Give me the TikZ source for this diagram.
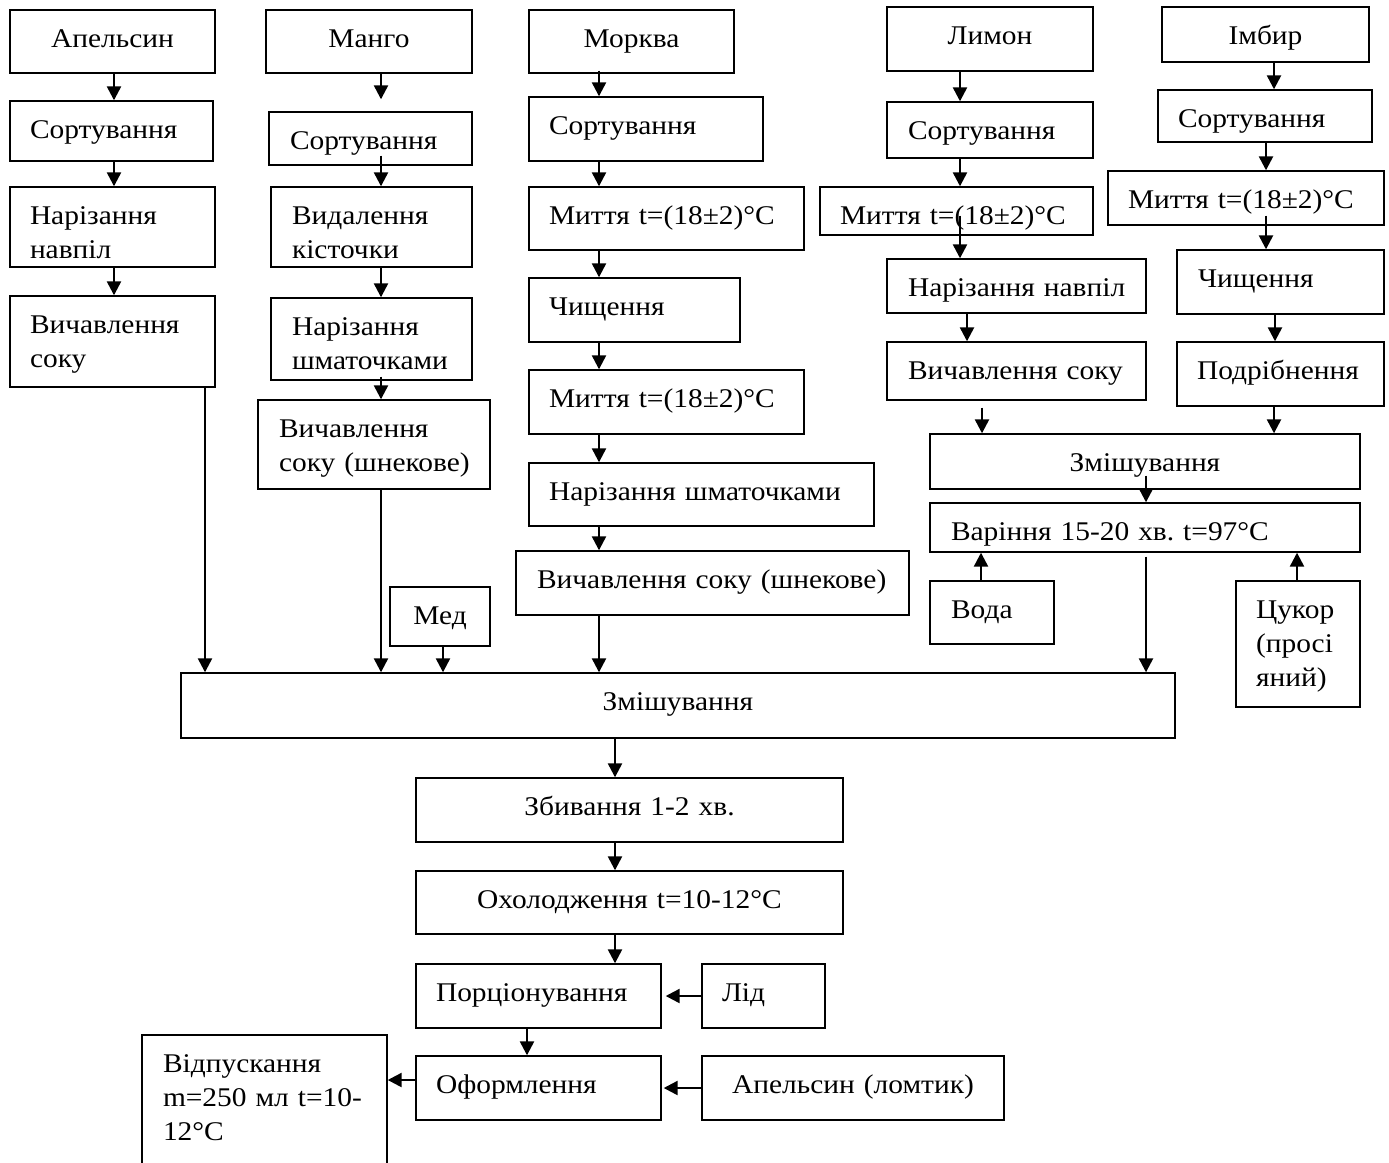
\documentclass[tikz,border=0pt]{standalone}
\usepackage{fontspec}
\setmainfont[FakeStretch=1.09]{Liberation Serif}
\usetikzlibrary{arrows.meta}
\tikzset{
  box/.style={draw, line width=1.4pt, rectangle, inner ysep=0pt, font=\fontsize{27}{34}\selectfont},
  arr/.style={line width=2.4pt, -{Triangle[length=14pt,width=14pt]}},
}
% name, x1, y1, x2, y2, pad, align, number of lines, text
\newcommand\mybox[9]{%
  \pgfmathsetmacro\bw{#4-#2}%
  \pgfmathsetmacro\bh{#5-#3}%
  \pgfmathsetmacro\tw{#4-#2-2*#6}%
  \pgfmathsetmacro\dd{#5-#3-39-(#8-1)*34}%
  \node[box, minimum width=\bw pt, minimum height=\bh pt, text width=\tw pt, inner xsep=#6 pt, align=#7] (#1) at ({(#2+#4)/2},{(#3+#5)/2}) {\rule{0pt}{36pt}#9\rule[-\dd pt]{0pt}{\dd pt}};}
\begin{document}
\begin{tikzpicture}[x=1pt,y=-1pt]
\useasboundingbox (0,0) rectangle (1389,1162);
\fill[white] (0,0) rectangle (1389,1162);
\clip (0,0) rectangle (1389,1162);
% column 1
\mybox{a1}{10}{10}{215}{73}{5}{center}{1}{Апельсин}
\mybox{a2}{10}{101}{213}{161}{20}{left}{1}{Сортування}
\mybox{a3}{10}{187}{215}{267}{20}{left}{2}{Нарізання\\навпіл}
\mybox{a4}{10}{296}{215}{387}{20}{left}{2}{Вичавлення\\соку}
% column 2
\mybox{m1}{266}{10}{472}{73}{5}{center}{1}{Манго}
\mybox{m2}{269}{112}{472}{165}{21}{left}{1}{Сортування}
\mybox{m3}{271}{187}{472}{267}{21}{left}{2}{Видалення\\кісточки}
\mybox{m4}{271}{298}{472}{380}{21}{left}{2}{Нарізання\\шматочками}
\mybox{m5}{258}{400}{490}{489}{21}{left}{2}{Вичавлення\\соку~(шнекове)}
\mybox{med}{390}{587}{490}{646}{5}{center}{1}{Мед}
% column 3
\mybox{k1}{529}{10}{734}{73}{5}{center}{1}{Морква}
\mybox{k2}{529}{97}{763}{161}{20}{left}{1}{Сортування}
\mybox{k3}{529}{187}{804}{250}{20}{left}{1}{Миття~t=(18±2)°C}
\mybox{k4}{529}{278}{740}{342}{20}{left}{1}{Чищення}
\mybox{k5}{529}{370}{804}{434}{20}{left}{1}{Миття~t=(18±2)°C}
\mybox{k6}{529}{463}{874}{526}{20}{left}{1}{Нарізання~шматочками}
\mybox{k7}{516}{551}{909}{615}{21}{left}{1}{Вичавлення~соку~(шнекове)}
% column 4
\mybox{l1}{887}{7}{1093}{71}{5}{center}{1}{Лимон}
\mybox{l2}{887}{102}{1093}{158}{21}{left}{1}{Сортування}
\mybox{l3}{820}{187}{1093}{235}{20}{left}{1}{Миття~t=(18±2)°C}
\mybox{l4}{887}{259}{1146}{313}{21}{left}{1}{Нарізання~навпіл}
\mybox{l5}{887}{342}{1146}{400}{21}{left}{1}{Вичавлення~соку}
% column 5
\mybox{i1}{1162}{7}{1369}{62}{5}{center}{1}{Імбир}
\mybox{i2}{1158}{90}{1372}{142}{20}{left}{1}{Сортування}
\mybox{i3}{1108}{171}{1384}{225}{20}{left}{1}{Миття~t=(18±2)°C}
\mybox{i4}{1177}{250}{1384}{314}{21}{left}{1}{Чищення}
\mybox{i5}{1177}{342}{1384}{406}{20}{left}{1}{Подрібнення}
% right block
\mybox{s1}{930}{434}{1360}{489}{5}{center}{1}{Змішування}
\mybox{v}{930}{503}{1360}{552}{21}{left}{1}{Варіння~15-20~хв.~t=97°C}
\mybox{voda}{930}{581}{1054}{644}{21}{left}{1}{Вода}
\mybox{cukor}{1236}{581}{1360}{707}{20}{left}{3}{Цукор\\(просі\\яний)}
% bottom
\mybox{z}{181}{673}{1175}{738}{5}{center}{1}{Змішування}
\mybox{b}{416}{778}{843}{842}{5}{center}{1}{Збивання 1-2 хв.}
\mybox{o}{416}{871}{843}{934}{5}{center}{1}{Охолодження t=10-12°C}
\mybox{p}{416}{964}{661}{1028}{20}{left}{1}{Порціонування}
\mybox{lid}{702}{964}{825}{1028}{20}{left}{1}{Лід}
\mybox{f}{416}{1056}{661}{1120}{20}{left}{1}{Оформлення}
\mybox{ap}{702}{1056}{1004}{1120}{5}{center}{1}{Апельсин~(ломтик)}
\mybox{vid}{142}{1035}{387}{1175}{21}{left}{3}{Відпускання\\m=250~мл~t=10-\\12°C}
% arrows column 1
\draw[arr] ([xshift=1.5pt]a1.south) -- ([xshift=2.5pt]a2.north);
\draw[arr] ([xshift=2.5pt]a2.south) -- ([xshift=1.5pt]a3.north);
\draw[arr] ([xshift=1.5pt]a3.south) -- ([xshift=1.5pt]a4.north);
\draw[arr] ([xshift=92.5pt]a4.south) -- ([xshift=-473pt]z.north);
% column 2
\draw[arr] ([xshift=12pt]m1.south) -- ([xshift=10.5pt,yshift=12pt]m2.north);
\draw[arr] ([xshift=10.5pt,yshift=10pt]m2.south) -- ([xshift=9.5pt]m3.north);
\draw[arr] ([xshift=9.5pt]m3.south) -- ([xshift=9.5pt]m4.north);
\draw[arr] ([xshift=9.5pt,yshift=4pt]m4.south) -- ([xshift=7pt]m5.north);
\draw[arr] ([xshift=7pt]m5.south) -- ([xshift=-297pt]z.north);
\draw[arr] ([xshift=3pt]med.south) -- ([xshift=-235pt]z.north);
% column 3
\draw[arr] ([xshift=-32.5pt,yshift=3pt]k1.south) -- ([xshift=-47pt]k2.north);
\draw[arr] ([xshift=-47pt]k2.south) -- ([xshift=-67.5pt]k3.north);
\draw[arr] ([xshift=-67.5pt]k3.south) -- ([xshift=-35.5pt]k4.north);
\draw[arr] ([xshift=-35.5pt]k4.south) -- ([xshift=-67.5pt]k5.north);
\draw[arr] ([xshift=-67.5pt]k5.south) -- ([xshift=-102.5pt]k6.north);
\draw[arr] ([xshift=-102.5pt]k6.south) -- ([xshift=-113.5pt]k7.north);
\draw[arr] ([xshift=-113.5pt]k7.south) -- ([xshift=-79pt]z.north);
% column 4
\draw[arr] ([xshift=-30pt]l1.south) -- ([xshift=-30pt]l2.north);
\draw[arr] ([xshift=-30pt]l2.south) -- ([xshift=3.5pt]l3.north);
\draw[arr] ([xshift=3.5pt,yshift=20pt]l3.south) -- ([xshift=-56.5pt]l4.north);
\draw[arr] ([xshift=-49.5pt]l4.south) -- ([xshift=-49.5pt]l5.north);
\draw[arr] ([xshift=-34.5pt,yshift=-7pt]l5.south) -- ([xshift=-163pt]s1.north);
% column 5
\draw[arr] ([xshift=8.5pt]i1.south) -- ([xshift=9pt]i2.north);
\draw[arr] ([xshift=1pt]i2.south) -- ([xshift=20pt]i3.north);
\draw[arr] ([xshift=20pt,yshift=10pt]i3.south) -- ([xshift=-14.5pt]i4.north);
\draw[arr] ([xshift=-5.5pt]i4.south) -- ([xshift=-5.5pt]i5.north);
\draw[arr] ([xshift=-6.5pt]i5.south) -- ([xshift=129pt]s1.north);
% right block
\draw[arr] ([xshift=1pt,yshift=14pt]s1.south) -- ([xshift=1pt]v.north);
\draw[arr] ([xshift=-11pt]voda.north) -- ([xshift=-164pt]v.south);
\draw[arr] ([xshift=-1pt]cukor.north) -- ([xshift=152pt]v.south);
\draw[arr] ([xshift=1pt,yshift=-4pt]v.south) -- ([xshift=468pt]z.north);
% bottom
\draw[arr] ([xshift=-63pt]z.south) -- ([xshift=-14.5pt]b.north);
\draw[arr] ([xshift=-14.5pt]b.south) -- ([xshift=-14.5pt]o.north);
\draw[arr] ([xshift=-14.5pt]o.south) -- ([xshift=76.5pt]p.north);
\draw[arr] ([xshift=-11.5pt]p.south) -- ([xshift=-11.5pt]f.north);
\draw[arr] (lid.west) -- ([xshift=4pt]p.east);
\draw[arr] (ap.west) -- ([xshift=2pt]f.east);
\draw[arr] ([yshift=8pt]f.west) -- ([yshift=25pt]vid.east);
\end{tikzpicture}
\end{document}
